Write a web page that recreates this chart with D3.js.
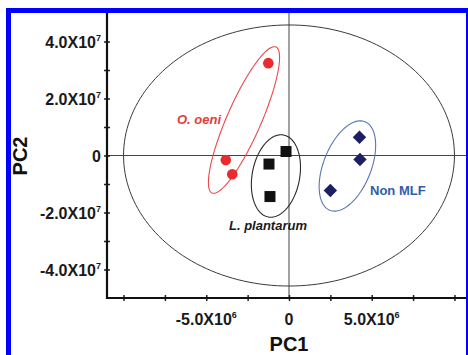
<!DOCTYPE html>
<html>
<head>
<meta charset="utf-8">
<script src="https://cdn.jsdelivr.net/npm/d3@7"></script>
<style>
  body { margin: 0; background: #fff; }
  svg { display: block; font-family: "Liberation Sans", Arial, sans-serif; }
</style>
</head>
<body>
<script>
var width = 468
var height = 355

// scores on the first two components
var oeni = [[-1.25e6, 32.4e6], [-3.82e6, -1.6e6], [-3.43e6, -6.6e6]]
var plantarum = [[-0.18e6, 1.4e6], [-1.21e6, -3.0e6], [-1.15e6, -14.4e6]]
var nonMLF = [[4.26e6, 6.4e6], [4.29e6, -1.4e6], [2.5e6, -12.3e6]]

// group ellipses: centre and one end of the long axis, plus short/long ratio
var groupEllipses = [
  { name: 'oeni', c: [-2.72e6, 12.46e6], tip: [-0.79e6, 38.07e6], ratio: 0.215 },
  { name: 'plantarum', c: [-0.79e6, -7.19e6], tip: [-0.33e6, 7.19e6], ratio: 0.57 },
  { name: 'nonMLF', c: [3.53e6, -3.68e6], tip: [4.59e6, 11.86e6], ratio: 0.5 }
]
// confidence ellipse for the whole set
var bigEllipse = { c: [0, 0], rx: 1.0e7, ry: 4.58e7 }

var xTicks = [-5e6, 0, 5e6]
var xTickLabels = [['-5.0X10', '6'], ['0', ''], ['5.0X10', '6']]
var xMinor = [-1e7, -7.5e6, -5e6, -2.5e6, 0, 2.5e6, 5e6, 7.5e6, 1e7]
var yTicks = [4e7, 2e7, 0, -2e7, -4e7]
var yTickLabels = [['4.0X10', '7'], ['2.0X10', '7'], ['0', ''], ['-2.0X10', '7'], ['-4.0X10', '7']]
var yMinor = [-4e7, -3e7, -2e7, -1e7, 0, 1e7, 2e7, 3e7, 4e7]

var colors = { oeni: '#ec2a2e', plantarum: '#111111', nonMLF: '#1c2060' }
var ellColors = { oeni: '#e8484a', plantarum: '#2a2a2a', nonMLF: '#5a76b0' }

var xScale = d3.scaleLinear().domain([-1.1e7, 1.1e7]).range([107, 471])
var yScale = d3.scaleLinear().domain([-5e7, 5e7]).range([298, 13])

var svg = d3.select('body').append('svg')
  .attr('width', width)
  .attr('height', height)

// zero lines
svg.append('line')
  .attr('x1', xScale(0)).attr('x2', xScale(0))
  .attr('y1', yScale(5e7)).attr('y2', yScale(-5e7))
  .attr('stroke', '#444').attr('stroke-width', 1)
svg.append('line')
  .attr('x1', xScale(-1.1e7)).attr('x2', xScale(1.1e7))
  .attr('y1', yScale(0)).attr('y2', yScale(0))
  .attr('stroke', '#444').attr('stroke-width', 1)

// big ellipse
var t = d3.range(0, 361, 2).map(d => d * Math.PI / 180)
var line = d3.line().x(d => d[0]).y(d => d[1]).curve(d3.curveLinearClosed)

svg.append('path')
  .attr('d', line(t.map(a => [
    xScale(bigEllipse.c[0] + bigEllipse.rx * Math.cos(a)),
    yScale(bigEllipse.c[1] + bigEllipse.ry * Math.sin(a))
  ])))
  .attr('fill', 'none')
  .attr('stroke', '#3a3a3a')
  .attr('stroke-width', 1)

// group ellipses, tilted in screen space
groupEllipses.forEach(e => {
  var cx = xScale(e.c[0]), cy = yScale(e.c[1])
  var tx = xScale(e.tip[0]) - cx, ty = yScale(e.tip[1]) - cy
  var a = Math.sqrt(tx * tx + ty * ty)
  var b = a * e.ratio
  var ux = tx / a, uy = ty / a
  var pts = t.map(s => [
    cx + a * Math.cos(s) * ux - b * Math.sin(s) * uy,
    cy + a * Math.cos(s) * uy + b * Math.sin(s) * ux
  ])
  svg.append('path')
    .attr('d', line(pts))
    .attr('fill', 'none')
    .attr('stroke', ellColors[e.name])
    .attr('stroke-width', 1.1)
})

// axes
var xAxis = d3.axisBottom(xScale).tickValues(xMinor).tickSize(3).tickFormat('')
var yAxis = d3.axisLeft(yScale).tickValues(yMinor).tickSize(3).tickFormat('')

var gx = svg.append('g')
  .attr('transform', 'translate(' + [0, 298] + ')')
  .call(xAxis)
var gy = svg.append('g')
  .attr('transform', 'translate(' + [107, 0] + ')')
  .call(yAxis)

gx.select('.domain').remove()
gy.select('.domain').remove()
gx.selectAll('.tick line').attr('y1', -3).attr('y2', 3).attr('stroke', '#222').attr('stroke-width', 1.5)
gy.selectAll('.tick line').attr('x1', -3).attr('x2', 3).attr('stroke', '#222').attr('stroke-width', 1.5)

svg.append('line')
  .attr('x1', 107).attr('x2', width)
  .attr('y1', 298).attr('y2', 298)
  .attr('stroke', '#111').attr('stroke-width', 2.2)
svg.append('line')
  .attr('x1', 107).attr('x2', 107)
  .attr('y1', 12).attr('y2', 299)
  .attr('stroke', '#111').attr('stroke-width', 2.2)

function tickLabel(g, lab) {
  g.append('tspan').text(lab[0])
  if (lab[1]) {
    g.append('tspan').text(lab[1])
      .attr('font-size', 9)
      .attr('dy', -7)
  }
}

xTicks.forEach((v, i) => {
  var txt = svg.append('text')
    .attr('x', xScale(v))
    .attr('y', 325)
    .attr('text-anchor', 'middle')
    .attr('font-size', 16)
    .attr('font-weight', 'bold')
    .attr('fill', '#1a1a1a')
  tickLabel(txt, xTickLabels[i])
})

yTicks.forEach((v, i) => {
  var txt = svg.append('text')
    .attr('x', 101)
    .attr('y', yScale(v) + 6)
    .attr('text-anchor', 'end')
    .attr('font-size', 16)
    .attr('font-weight', 'bold')
    .attr('fill', '#1a1a1a')
  tickLabel(txt, yTickLabels[i])
})

// axis titles
svg.append('text')
  .attr('x', xScale(0))
  .attr('y', 351)
  .attr('text-anchor', 'middle')
  .attr('font-size', 20)
  .attr('font-weight', 'bold')
  .attr('fill', '#111')
  .text('PC1')

svg.append('text')
  .attr('transform', 'translate(' + [27, 156] + ') rotate(-90)')
  .attr('text-anchor', 'middle')
  .attr('font-size', 20)
  .attr('font-weight', 'bold')
  .attr('fill', '#111')
  .text('PC2')

// points
svg.selectAll('circle.oeni')
  .data(oeni).enter().append('circle')
  .attr('class', 'oeni')
  .attr('cx', d => xScale(d[0]))
  .attr('cy', d => yScale(d[1]))
  .attr('r', 5.3)
  .attr('fill', colors.oeni)

svg.selectAll('rect.plantarum')
  .data(plantarum).enter().append('rect')
  .attr('class', 'plantarum')
  .attr('x', d => xScale(d[0]) - 5.5)
  .attr('y', d => yScale(d[1]) - 5.5)
  .attr('width', 11)
  .attr('height', 11)
  .attr('fill', colors.plantarum)

svg.selectAll('path.nonMLF')
  .data(nonMLF).enter().append('path')
  .attr('class', 'nonMLF')
  .attr('d', d3.symbol().type(d3.symbolSquare).size(90))
  .attr('transform', d => 'translate(' + [xScale(d[0]), yScale(d[1])] + ') rotate(45)')
  .attr('fill', colors.nonMLF)

// group labels
svg.append('text')
  .attr('x', 221).attr('y', 124)
  .attr('text-anchor', 'end')
  .attr('font-size', 13).attr('font-weight', 'bold').attr('font-style', 'italic')
  .attr('fill', '#e53a3a')
  .text('O. oeni')

svg.append('text')
  .attr('x', 268).attr('y', 230)
  .attr('text-anchor', 'middle')
  .attr('font-size', 13).attr('font-weight', 'bold').attr('font-style', 'italic')
  .attr('fill', '#1a1a1a')
  .text('L. plantarum')

svg.append('text')
  .attr('x', 370).attr('y', 195)
  .attr('font-size', 13).attr('font-weight', 'bold')
  .attr('fill', '#2f5ea8')
  .text('Non MLF')

// blue frame
svg.append('rect')
  .attr('x', 8.5).attr('y', 10.5)
  .attr('width', 460).attr('height', 400)
  .attr('fill', 'none')
  .attr('stroke', '#0000ff')
  .attr('stroke-width', 5)
</script>
</body>
</html>
